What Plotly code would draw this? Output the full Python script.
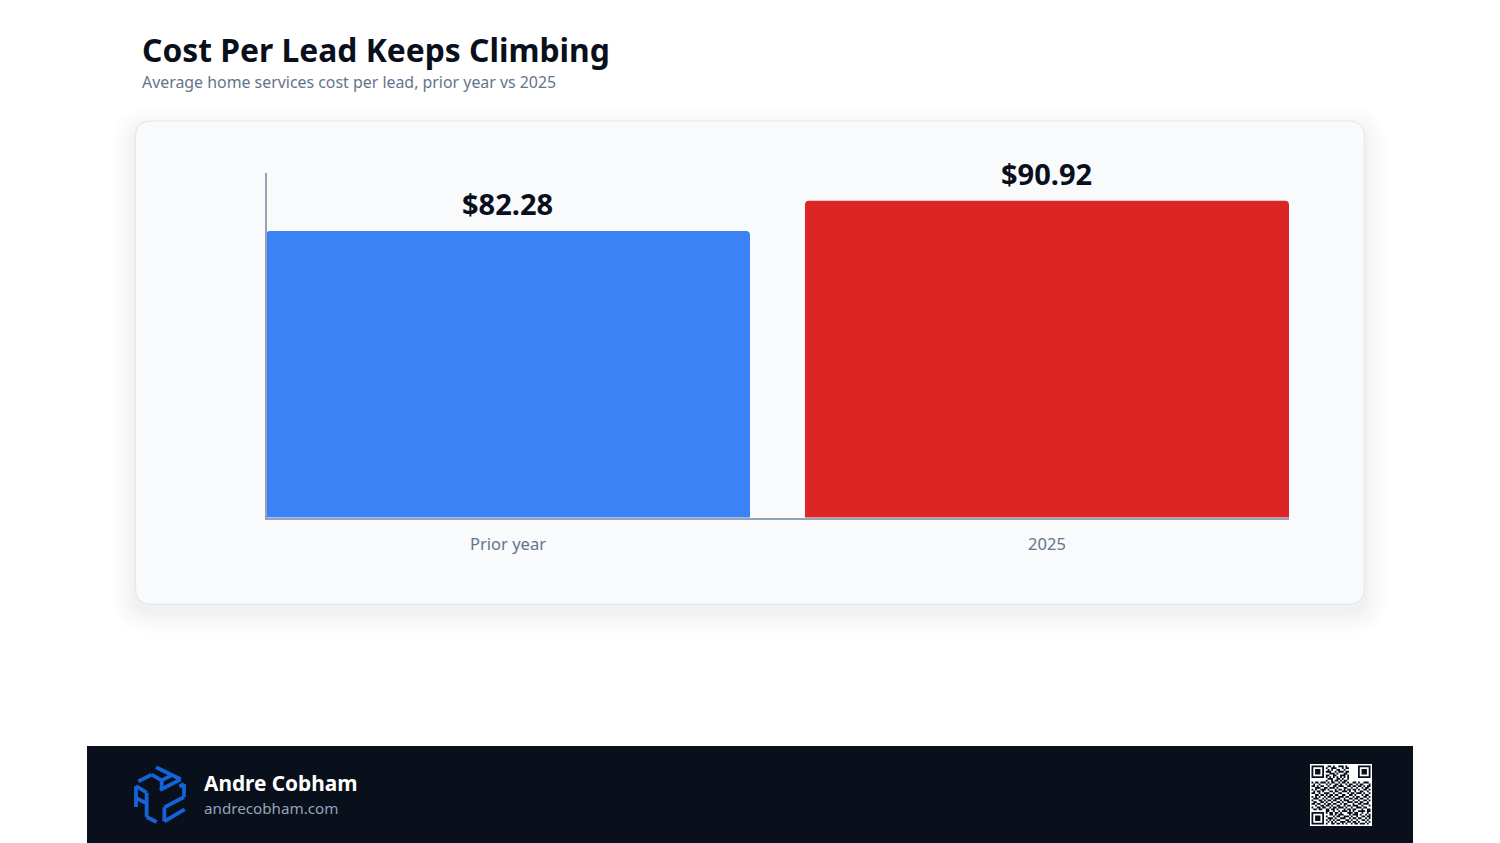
import plotly.graph_objects as go

W = 1500
H = 843

categories = ["Prior year", "2025"]
values = [82.28, 90.92]
value_labels = ["$82.28", "$90.92"]
bar_colors = ["#3b82f6", "#dc2626"]

title = "Cost Per Lead Keeps Climbing"
subtitle = "Average home services cost per lead, prior year vs 2025"
brand_name = "Andre Cobham"
brand_site = "andrecobham.com"

# the finder squares get drawn on top in code
qr_rows = [
    "000000000110100111010000000000000",
    "000000001001110001011000000000000",
    "000000000101001100100000000000000",
    "000000001110010111011000000000000",
    "000000000011101000110000000000000",
    "000000001100110011101000000000000",
    "000000001010101010101000000000000",
    "000000000111001101001000000000000",
    "000000001001011010110000000000000",
    "101101110101100101101001101001110",
    "010010001010011010010110010110001",
    "110101100100110111001101101101011",
    "001110011011101000110010010010110",
    "101001110100010110101101101001101",
    "010110100011011001110100100110010",
    "110010011100100110001011011101001",
    "001101101011011001100110100010110",
    "101010010110100111011001011001101",
    "011100101001011100100110110110010",
    "100011010110110010111001001001101",
    "011001101001001101001110110110010",
    "110110010110110010110001001101110",
    "001001101101001100101101110010001",
    "100110110010110111010010011101100",
    "011011001101101000101101100010011",
    "000000001100100101110101001111011",
    "000000001011011010001110110010010",
    "000000000011010111000101110100101",
    "000000001000101100111010010011011",
    "000000000111010011100101101100101",
    "000000001010101100011010010011010",
    "000000000101010011101101101000101",
    "000000001001101101010010110111010",
]


def px(x):
    return x / W


def py(y):
    return 1 - y / H


def rounded(x0, y0, x1, y1, r):
    return (
        f"M{px(x0 + r)},{py(y0)} L{px(x1 - r)},{py(y0)} "
        f"Q{px(x1)},{py(y0)} {px(x1)},{py(y0 + r)} L{px(x1)},{py(y1 - r)} "
        f"Q{px(x1)},{py(y1)} {px(x1 - r)},{py(y1)} L{px(x0 + r)},{py(y1)} "
        f"Q{px(x0)},{py(y1)} {px(x0)},{py(y1 - r)} L{px(x0)},{py(y0 + r)} "
        f"Q{px(x0)},{py(y0)} {px(x0 + r)},{py(y0)} Z"
    )


def page_text(x, y, text, size, color, bold=False):
    return dict(
        xref="paper", yref="paper", x=px(x), y=py(y), text=f"<b>{text}</b>" if bold else text,
        showarrow=False, xanchor="left", yanchor="middle",
        font=dict(family="Noto Sans", size=size, color=color),
    )


shapes = []

# card shadow, stacked soft layers
for grow in [22, 18, 14, 10, 7, 4, 2]:
    shapes.append(dict(
        type="path", xref="paper", yref="paper", layer="below", line_width=0,
        path=rounded(135 - grow, 121 + 8 - grow, 1365 + grow, 604 + 8 + grow, 16 + grow),
        fillcolor="rgba(15,23,42,0.008)",
    ))
shapes.append(dict(
    type="path", xref="paper", yref="paper", layer="below",
    path=rounded(135.5, 121, 1364.5, 604.3, 16),
    fillcolor="#f8fafc", line=dict(color="#e2e8f0", width=1.2),
))

# footer band
shapes.append(dict(
    type="rect", xref="paper", yref="paper", layer="below", line_width=0,
    x0=px(87), x1=px(1413), y0=py(843), y1=py(746), fillcolor="#0a0f1c",
))

logo_lines = [
    [(78, 16), (152, 52)],
    [(152, 52), (90, 84)],
    [(25, 58), (65, 38)],
    [(65, 38), (95, 55)],
    [(95, 55), (95, 85)],
    [(95, 55), (128, 38)],
    [(18, 72), (18, 135)],
    [(18, 72), (50, 92)],
    [(50, 92), (50, 165)],
    [(50, 165), (80, 180)],
    [(18, 108), (50, 124)],
    [(148, 74), (162, 66)],
    [(162, 66), (162, 105)],
    [(162, 105), (103, 136)],
    [(103, 136), (103, 178)],
    [(103, 178), (164, 142)],
]
logo_path = ""
for line in logo_lines:
    pts = [(px(130 + a / 3), py(762 + b / 3)) for a, b in line]
    logo_path += f"M{pts[0][0]},{pts[0][1]} L{pts[1][0]},{pts[1][1]} "
shapes.append(dict(
    type="path", xref="paper", yref="paper", path=logo_path,
    line=dict(color="#1463d8", width=3.8),
))

# qr code
shapes.append(dict(
    type="rect", xref="paper", yref="paper", line_width=0,
    x0=px(1310), x1=px(1372), y0=py(826), y1=py(764), fillcolor="#ffffff",
))
mod = 59 / 33
qr_x = 1311.5
qr_y = 765.5


def cell(col, row, n_cols=1, n_rows=1):
    x0, x1 = px(qr_x + col * mod), px(qr_x + (col + n_cols) * mod)
    y0, y1 = py(qr_y + row * mod), py(qr_y + (row + n_rows) * mod)
    return f"M{x0},{y0} L{x1},{y0} L{x1},{y1} L{x0},{y1} Z "


qr_path = ""
for r, row in enumerate(qr_rows):
    for c, v in enumerate(row):
        if v == "1":
            qr_path += cell(c, r)
for cx, cy in [(0, 0), (26, 0), (0, 26)]:
    qr_path += cell(cx, cy, 7, 1) + cell(cx, cy + 6, 7, 1)
    qr_path += cell(cx, cy + 1, 1, 5) + cell(cx + 6, cy + 1, 1, 5)
    qr_path += cell(cx + 2, cy + 2, 3, 3)
shapes.append(dict(
    type="path", xref="paper", yref="paper", path=qr_path,
    fillcolor="#0a0f1c", line_width=0,
))

annotations = [
    page_text(140, 49, title, 31.8, "#0a0f1c", bold=True),
    page_text(140, 82, subtitle, 15.9, "#64748b"),
    page_text(202, 783, brand_name, 20.8, "#ffffff", bold=True),
    page_text(202, 808, brand_site, 15.2, "#94a3b8"),
]
for i, (val, lab) in enumerate(zip(values, value_labels)):
    annotations.append(dict(
        x=i, y=val, xref="x", yref="y", text=f"<b>{lab}</b>", showarrow=False,
        xanchor="center", yanchor="bottom", yshift=5.5,
        font=dict(family="Noto Sans", size=29, color="#0a0f1c"),
    ))

fig = go.Figure(go.Bar(
    x=categories,
    y=values,
    width=0.898,
    marker=dict(color=bar_colors, cornerradius=4, line_width=0),
    cliponaxis=False,
    hoverinfo="skip",
))

fig.update_layout(
    width=W,
    height=H,
    margin=dict(l=0, r=0, t=0, b=0),
    paper_bgcolor="#ffffff",
    plot_bgcolor="rgba(0,0,0,0)",
    showlegend=False,
    shapes=shapes,
    annotations=annotations,
    font=dict(family="Noto Sans"),
)
fig.update_xaxes(
    type="category",
    domain=[px(267), px(1289)],
    range=[-0.4471, 1.449],
    showgrid=False,
    showline=True,
    linecolor="#94a3b8",
    linewidth=1.5,
    layer="below traces",
    ticks="outside",
    ticklen=11,
    tickcolor="rgba(0,0,0,0)",
    tickfont=dict(family="Noto Sans", size=16.5, color="#64748b"),
)
fig.update_yaxes(
    domain=[py(517.5), py(173)],
    range=[0.14, 98.9],
    showgrid=False,
    showline=True,
    linecolor="#94a3b8",
    linewidth=1.5,
    layer="below traces",
    showticklabels=False,
    ticks="",
    zeroline=False,
)

fig.write_html(
    "out.html",
    config={"displayModeBar": False},
    post_script="document.body.style.margin='0';document.body.style.overflow='hidden';",
)
